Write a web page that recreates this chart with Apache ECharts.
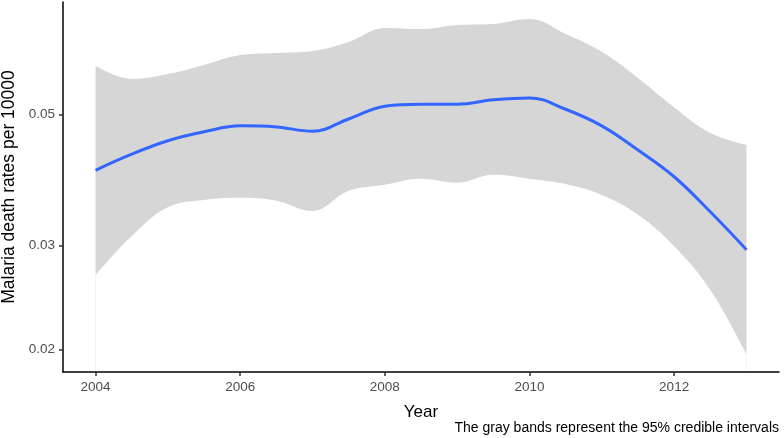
<!DOCTYPE html>
<html>
<head>
<meta charset="utf-8">
<script src="https://cdn.jsdelivr.net/npm/echarts@6/dist/echarts.min.js"></script>
<style>
html,body{margin:0;padding:0;background:#fff;}
#chart{width:784px;height:438px;}
</style>
</head>
<body>
<div id="chart"></div>
<script>
// half-year grid of the fitted rate and its 95% band
var years = [2004, 2004.5, 2005, 2005.5, 2006, 2006.5, 2007, 2007.5, 2008, 2008.5,
             2009, 2009.5, 2010, 2010.5, 2011, 2011.5, 2012, 2012.5, 2013];
var fitRate = [0.0402, 0.0428, 0.0451, 0.0467, 0.0478, 0.0476, 0.0468, 0.0491, 0.0516, 0.0520,
               0.0520, 0.0529, 0.0533, 0.0510, 0.0478, 0.0435, 0.0392, 0.0342, 0.0295];
var upperRate = [0.0604, 0.0574, 0.0585, 0.0606, 0.0630, 0.0635, 0.0640, 0.0663, 0.0700, 0.0697,
                 0.0708, 0.0711, 0.0725, 0.0684, 0.0638, 0.0576, 0.0514, 0.0465, 0.0444];
var lowerRate = [0.0267, 0.0311, 0.0348, 0.0358, 0.0361, 0.0357, 0.0343, 0.0371, 0.0380, 0.0389,
                 0.0383, 0.0395, 0.0389, 0.0381, 0.0365, 0.0338, 0.0299, 0.0252, 0.0196];
var yTicks = [0.02, 0.03, 0.05];
var xTicks = [2004, 2006, 2008, 2010, 2012];

var chart = echarts.init(document.getElementById('chart'))

// y axis is log10 scale, so work in log space
var lg = function(v){ return Math.log10(v) }
var toPts = function(arr){ return years.map(function(y, i){ return [y, lg(arr[i])] }) }

var labelStyle = {fontFamily:'Liberation Sans', fontSize:13.5, color:'#4d4d4d'}

var options = {
    animation:false,
    grid:{left:63, right:5, top:2, bottom:66, outerBoundsMode:'none', containLabel:false},
    xAxis:{
        type:'value',
        z:10,
        min:2003.55,
        max:2013.45,
        name:'Year',
        nameLocation:'middle',
        nameGap:32,
        nameTextStyle:{fontFamily:'Liberation Sans', fontSize:17, color:'#000'},
        splitLine:{show:false},
        axisLine:{lineStyle:{color:'#000', width:1.5}},
        axisTick:{show:true, length:4, customValues:xTicks, lineStyle:{color:'#333', width:1.5}},
        axisLabel:Object.assign({margin:8, customValues:xTicks, formatter:function(v){return String(v)}}, labelStyle)
    },
    yAxis:{
        type:'value',
        z:10,
        min:lg(0.01831),
        max:lg(0.07747),
        name:'Malaria death rates per 10000',
        nameLocation:'middle',
        nameRotate:90,
        nameGap:37,
        nameTextStyle:{fontFamily:'Liberation Sans', fontSize:17.5, color:'#000'},
        splitLine:{show:false},
        axisLine:{show:true, lineStyle:{color:'#000', width:1.5}},
        axisTick:{show:true, length:4, customValues:yTicks.map(lg), lineStyle:{color:'#333', width:1.5}},
        axisLabel:Object.assign({margin:8, customValues:yTicks.map(lg), formatter:function(v){
            return Math.pow(10, v).toFixed(2)
        }}, labelStyle)
    },
    graphic:[{
        type:'text',
        right:5,
        top:421,
        style:{
            text:'The gray bands represent the 95% credible intervals',
            fontFamily:'Liberation Sans',
            fontSize:14,
            fill:'#000'
        }
    }],
    series:[
        {   // upper bound, gray down to the floor
            type:'line',
            data:toPts(upperRate),
            smooth:0.4,
            symbol:'none',
            lineStyle:{opacity:0},
            areaStyle:{color:'#d6d6d6', opacity:1, origin:'start'},
            silent:true
        },
        {   // lower bound, white wipes out under the band
            type:'line',
            data:toPts(lowerRate),
            smooth:0.4,
            symbol:'none',
            lineStyle:{opacity:0},
            areaStyle:{color:'#ffffff', opacity:1, origin:'start'},
            silent:true
        },
        {
            type:'line',
            data:toPts(fitRate),
            smooth:0.4,
            symbol:'none',
            lineStyle:{color:'#3366ff', width:3}
        }
    ]
}
chart.setOption(options)
</script>
</body>
</html>
